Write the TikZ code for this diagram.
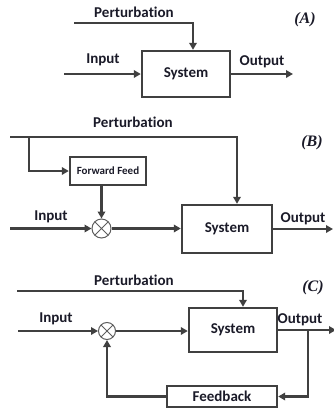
\documentclass[tikz,border=0pt]{standalone}
\usepackage{fontspec}
\usetikzlibrary{arrows.meta,calc}
\newfontfamily\labfont[Ligatures=NoCommon]{Carlito}
\newfontfamily\tagfont{Liberation Serif}
\definecolor{ln}{HTML}{404040}
\definecolor{tx}{HTML}{1A1A28}
\begin{document}
\begin{tikzpicture}[x=1pt,y=-1pt,
  lbl/.style={font=\labfont\bfseries\fontsize{15}{15}\selectfont, text=tx, inner sep=0pt},
  tag/.style={font=\tagfont\bfseries\itshape\fontsize{16}{16}\selectfont, text=tx, inner sep=0pt},
  sysbox/.style={draw=ln, line width=2.4pt, minimum width=88pt, minimum height=46pt, inner sep=0pt, text=tx, font=\labfont\bfseries\fontsize{15}{15}\selectfont},
  fbbox/.style={draw=ln, line width=2.4pt, inner sep=0pt, text=tx},
  mix/.style={draw=ln!85, circle, line width=1pt, minimum size=19pt, inner sep=0pt, path picture={\draw[ln!85, line width=1pt] (path picture bounding box.north west) -- (path picture bounding box.south east) (path picture bounding box.north east) -- (path picture bounding box.south west);}},
  wire/.style={line width=2.4pt, draw=ln},
  arr/.style={wire, -{Triangle[length=7pt,width=7.5pt]}}
]
\useasboundingbox (0,0) rectangle (333,408);

% ---------- (A)
\node[sysbox] (sysA) at (186,74) {System};
\coordinate (pA) at (74,23);
\coordinate (inA) at (64,74);
\coordinate (outA) at (293,74);
\draw[arr] (pA) -| ($(sysA.north)+(7,0)$);
\draw[arr] (inA) -- (sysA.west);
\draw[arr] (sysA.east) -- (outA);
\node[lbl] (tpA) at (134,12) {Perturbation};
\node[lbl] (tiA) at (103,60) {Input};
\node[lbl] (toA) at (262,62) {Output};
\node[tag] (tagA) at (305,20) {(A)};

% ---------- (B)
\node[sysbox, minimum width=90pt, minimum height=48pt] (sysB) at (227,229) {System};
\node[fbbox, minimum width=76pt, minimum height=28pt, font=\labfont\bfseries\fontsize{11}{11}\selectfont] (ffB) at (108,171) {Forward Feed};
\node[mix] (mxB) at (101.5,228.5) {};
\coordinate (pB) at (10,137);
\coordinate (brB) at (29,137);
\coordinate (inB) at (10,228.5);
\coordinate (outB) at (333,229);
\draw[arr] (pB) -| ($(sysB.north)+(10,0)$);
\draw[arr] (brB) |- (ffB.west);
\draw[arr] (ffB.south -| mxB.north) -- (mxB.north);
\draw[arr] (inB) -- (mxB.west);
\draw[arr] (mxB.east) -- (mxB.east -| sysB.west);
\draw[arr] (sysB.east) -- (outB);
\node[lbl] (tpB) at (133,122) {Perturbation};
\node[lbl] (tiB) at (51,217) {Input};
\node[lbl] (toB) at (303,219) {Output};
\node[tag] (tagB) at (312,143) {(B)};

% ---------- (C)
\node[sysbox, minimum width=88pt, minimum height=44pt] (sysC) at (233,330) {System};
\node[fbbox, minimum width=110pt, minimum height=21pt, font=\labfont\bfseries\fontsize{15}{15}\selectfont] (fbC) at (222,396.5) {Feedback};
\node[mix, minimum size=17pt] (mxC) at (107,331) {};
\coordinate (pC) at (17,291);
\coordinate (inC) at (18,331);
\coordinate (outC) at (336,330);
\coordinate (brC) at (308,330);
\draw[arr] (pC) -| ($(sysC.north)+(10,0)$);
\draw[arr] (inC) -- (mxC.west);
\draw[arr] (mxC.east) -- (mxC.east -| sysC.west);
\draw[arr] (sysC.east) -- (outC);
\draw[arr] (brC) |- (fbC.east);
\draw[arr] (fbC.west) -| (mxC.south);
\node[lbl] (tpC) at (134,280) {Perturbation};
\node[lbl] (tiC) at (56,319) {Input};
\node[lbl] (toC) at (300,320) {Output};
\node[tag] (tagC) at (313,288) {(C)};
\end{tikzpicture}
\end{document}
